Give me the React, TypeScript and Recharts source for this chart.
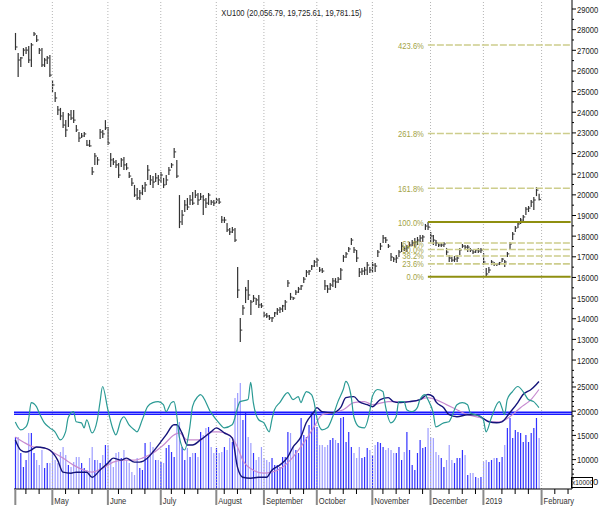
import React from 'react';
import { ComposedChart, Bar, Line, XAxis, YAxis, ReferenceLine } from 'recharts';

const FONT = "'Liberation Sans', Arial, sans-serif";
const NARROW = 0.8;

const highs = [
  27840,26870,26680,27110,27160,27210,27350,27890,27740,27110,
  27110,26630,26720,26770,25560,24980,24300,24210,24010,23620,
  23960,24110,24110,23380,23040,23000,23040,22660,22660,21350,
  22030,21830,23190,23140,23620,23290,22030,21780,21690,21540,
  21780,21830,21540,21110,20820,20480,20330,20230,20480,20620,
  21450,20960,20910,21060,20960,21110,20820,20960,21350,21540,
  22270,21690,19990,19270,19750,19850,19990,20140,20230,20090,
  20090,19990,19850,20090,19750,19750,19850,19850,18980,18930,
  18640,18390,18440,18390,16510,14040,14670,15540,15880,14910,
  15150,15000,15150,14760,14330,14280,14180,14080,14330,14520,
  14570,14670,14910,15880,15250,15050,15390,15540,15630,16020,
  16360,16360,16600,16840,16940,16510,16460,15880,15630,15730,
  15970,15970,16020,16460,17090,17230,17470,17910,17470,17330,
  16460,16460,16510,16750,16510,16750,16700,17330,17670,18060,
  17960,17620,17180,16990,17090,17330,17720,17470,17570,17720,
  17810,17910,17960,18060,18060,18590,18680,18200,18060,17810,
  17670,17670,17720,17430,17090,16990,17040,17090,17430,17620,
  17570,17570,17430,17330,17380,17430,17430,17180,16460,16510,
  16840,16750,16700,16750,16940,16840,17230,17720,18200,18490,
  18690,18880,19020,19410,19460,19750,19900,20380,20056.79,
];

const lows = [
  27010,25710,26190,26720,26820,26390,26190,27690,27400,26820,
  26190,26190,26340,25710,24980,24500,23870,23620,23240,22800,
  23290,23620,23480,23040,22560,22750,22800,22370,22320,20960,
  21450,21450,22700,22750,23140,22410,21350,21450,21300,20820,
  21350,21200,21200,20820,20430,19900,19750,19750,19990,20140,
  20720,20480,20330,20620,20480,20570,20330,20480,20960,21300,
  21780,20820,18390,18540,19170,19270,19510,19510,19850,19510,
  19750,19020,19360,19510,19510,19460,19600,19560,18640,18640,
  18200,18060,18150,17720,15000,12870,14180,14760,14910,14180,
  14810,14670,14520,14520,14080,14040,13940,13840,14080,14180,
  14280,14330,14420,15540,14910,14910,15150,15250,15390,15730,
  16020,16120,16360,16510,16510,16260,16220,15390,15250,15390,
  15540,15490,15730,15880,16750,16940,17230,17570,17180,16750,
  16020,16120,16120,16120,16220,16220,16260,16990,17330,17670,
  17670,17430,16800,16750,16700,16990,17230,17280,17230,17470,
  17520,17470,17570,17720,17720,18300,18300,17720,17570,17520,
  17470,17470,17470,17090,16750,16750,16750,16750,17090,17430,
  17330,17230,17230,17140,17180,17180,17180,16600,16030,16220,
  16600,16550,16550,16600,16750,16510,16990,17330,17810,18200,
  18390,18590,18730,19020,19170,19410,19270,19940,19725.61,
];

const closes = [
  27160,26530,26630,27010,27010,26530,27260,27790,27500,27010,
  26290,26530,26630,25800,25320,24690,24110,23820,23380,23140,
  23870,23720,23620,23140,22750,22850,22950,22410,22370,21110,
  21880,21690,23040,22950,23240,22510,21690,21590,21450,20960,
  21690,21450,21300,20910,20570,19990,19850,20090,20330,20480,
  21200,20720,20620,20820,20720,20960,20480,20720,21200,21450,
  22080,20910,18690,19020,19510,19410,19750,19600,19990,19750,
  19900,19750,19600,19990,19650,19600,19750,19650,18780,18780,
  18300,18200,18300,17810,15390,13450,14520,15390,15150,14810,
  15000,14910,14670,14620,14180,14130,14040,14040,14280,14420,
  14470,14620,14810,15730,15050,15000,15290,15440,15590,15920,
  16260,16310,16550,16750,16840,16360,16310,15590,15440,15630,
  15830,15780,15920,16360,16990,17140,17380,17810,17330,16940,
  16260,16310,16360,16600,16360,16600,16550,17230,17520,17910,
  17810,17520,16990,16890,16940,17230,17520,17380,17430,17570,
  17670,17720,17810,17910,17960,18490,18440,18010,17810,17670,
  17570,17570,17620,17230,16940,16840,16890,16940,17330,17520,
  17470,17470,17330,17230,17330,17280,17330,16750,16170,16360,
  16750,16650,16650,16700,16890,16750,17140,17620,18100,18390,
  18590,18780,18930,19310,19360,19650,19750,20230,19781.15,
];

// volume, x10000
const volumes = [
  52,52,36,22,29,56,56,36,29,24,39,21,26,26,
  37,29,26,37,42,34,24,22,27,32,32,26,21,19,31,
  42,29,29,26,34,44,44,29,22,36,37,31,39,29,26,17,14,
  31,21,19,46,32,47,42,29,29,27,26,41,44,37,32,
  64,67,
  42,29,41,32,36,36,32,
  57,54,61,62,42,36,41,36,37,42,39,51,47,91,96,106,
  69,76,52,46,36,29,32,42,31,29,27,31,24,24,
  22,32,32,57,56,42,39,36,71,54,52,64,76,74,
  62,44,44,42,44,49,51,49,46,71,72,47,57,42,
  36,31,42,31,32,41,39,34,44,47,46,42,39,41,
  39,36,36,42,
  29,37,57,39,24,19,36,49,41,42,
  61,52,51,37,34,31,22,29,44,29,26,31,31,39,
  34,14,16,16,12,11,12,27,29,27,29,31,31,27,
  32,44,61,71,51,59,57,56,47,54,47,56,61,71,51,
];

const tealPts: [number, number][] = [
  [0,17750],[2,16150],[4,16770],[5,18230],[6,21770],[8,20940],[9,19690],[11,17600],[13,16560],[15,15730],
  [17,14060],[19,15730],[20,18650],[22,19900],[23,17810],[25,17600],[26,16560],[27,18230],[29,15520],[31,18230],
  [32,21770],[33,25100],[35,20310],[37,16150],[38,15100],[40,18230],[41,18850],[43,17190],[45,16150],[46,15730],
  [48,18230],[50,20940],[52,21770],[54,21980],[56,21350],[57,19900],[59,21770],[60,21980],[61,19270],[62,14690],
  [64,11980],[66,16770],[67,20940],[69,23020],[70,23440],[74,19690],[77,17600],[79,16560],[82,17190],[85,21980],
  [88,22400],[89,25940],[90,21770],[92,18230],[94,17600],[96,15730],[97,18230],[98,20310],[100,21770],[103,23850],
  [105,22400],[107,23020],[108,21770],[109,23020],[110,24060],[112,23440],[113,21770],[114,18650],[116,16150],[118,16560],
  [120,18850],[122,21980],[124,24480],[125,26150],[127,23020],[128,18850],[130,16770],[132,16560],[134,19900],[135,23020],
  [137,24480],[139,24060],[140,20940],[142,17600],[144,18850],[145,21980],[147,21980],[148,20310],[150,19900],[152,20730],
  [153,22400],[155,23440],[156,22400],[158,19690],[159,16770],[162,17600],[164,17810],[165,18850],[167,21350],[169,21770],
  [171,21350],[172,19690],[174,19270],[176,18850],[177,18230],[178,15730],[180,18650],[183,21980],[184,20730],[185,19270],
  [186,22400],[188,24060],[190,25100],[192,24060],[194,22400],[196,21980],[198,20730],
];

const navyPts: [number, number][] = [
  [0,14060],[2,11980],[4,11560],[6,11980],[8,12600],[11,12400],[13,11980],[16,9900],[18,7400],[21,7190],
  [23,7400],[27,7400],[29,6350],[32,7810],[35,9270],[37,10310],[40,9900],[42,10310],[45,9480],[47,9480],
  [50,10310],[52,11560],[55,13650],[57,15100],[60,17190],[61,17190],[63,15520],[65,13020],[67,13020],[70,14060],
  [74,15730],[76,16560],[79,15520],[82,14480],[84,8440],[86,6350],[89,6150],[92,6350],[95,6350],[97,7810],
  [100,8860],[103,10520],[105,12600],[108,14690],[110,17600],[113,19900],[114,20730],[116,19900],[120,19690],[123,20730],
  [125,22810],[128,23020],[130,21980],[133,21350],[135,20940],[138,22400],[141,22810],[143,21980],[145,21770],[149,21980],
  [153,22400],[156,23440],[158,23020],[159,21980],[162,20730],[164,19270],[167,18850],[171,19270],[174,19270],[176,18850],
  [179,17810],[182,17600],[184,17810],[187,19690],[190,21770],[192,23440],[195,24480],[197,25520],[198,26150],
];

const pinkPts: [number, number][] = [
  [0,14690],[3,13650],[7,12600],[11,12400],[14,11560],[18,10310],[22,8860],[26,7810],[29,7400],[33,8230],
  [37,9480],[41,9900],[45,9900],[48,10310],[52,11350],[56,13020],[60,15100],[62,15520],[65,14060],[70,14060],
  [74,15730],[77,15730],[81,15100],[84,12600],[86,9900],[90,7810],[94,7190],[97,7400],[101,8440],[105,10520],
  [109,13440],[113,16770],[116,19270],[120,19690],[124,20310],[128,21770],[132,21980],[135,21350],[141,21980],[145,21980],
  [150,21980],[156,22810],[159,22400],[163,21350],[167,20310],[171,19270],[176,18650],[180,17810],[183,17810],[187,18850],
  [191,20730],[195,22400],[198,24480],
];

const monthStarts = [0, 14, 35, 55, 76, 94, 114, 135, 157, 177, 199];
const monthLabels = ['', 'May', 'June', 'July', 'August', 'September', 'October', 'November', 'December', '2019', 'February'];

const priceMajorTicks = [12000,13000,14000,15000,16000,17000,18000,19000,20000,21000,22000,23000,24000,25000,26000,27000,28000,29000];
const indMajorTicks = [10000, 15000, 20000, 25000];
const signalLevels = [19770, 19360];

const fibLow = 16030;
const fibHigh = 18680;
const fibStartIdx = 156;
const fibRatios = [0, 0.236, 0.382, 0.5, 0.618, 1, 1.618, 2.618, 4.236];
const fibLabels = ['0.0%', '23.6%', '38.2%', '50.0%', '61.8%', '100.0%', '161.8%', '261.8%', '423.6%'];

const titleText = 'XU100 (20,056.79, 19,725.61, 19,781.15)';

const TOTAL = 211;
const N = highs.length;

const table: any[] = [];
for (let i = 0; i < TOTAL; i++) {
  const row: any = { i };
  if (i < N) {
    row.range = [lows[i], highs[i]];
    row.close = closes[i];
    row.vol = volumes[i];
    row.up = i === 0 ? true : closes[i] >= closes[i - 1];
  }
  table.push(row);
}
tealPts.forEach(([i, v]) => { table[i].teal = v; });
navyPts.forEach(([i, v]) => { table[i].navy = v; });
pinkPts.forEach(([i, v]) => { table[i].pink = v; });

const priceTicks: number[] = [];
priceMajorTicks.forEach((t) => { priceTicks.push(t - 500); priceTicks.push(t); });
const indTicks: number[] = [];
for (let t = 6000; t <= 27000; t += 1000) indTicks.push(t);

const weekTicks: number[] = [];
for (let t = 4; t < TOTAL; t += 5) {
  if (monthStarts.every((m) => Math.abs(m - t) > 2)) weekTicks.push(t);
}
const xTicks = [...monthStarts, ...weekTicks].sort((a, b) => a - b);

const NarrowText = ({ x, y, anchor, size, fill, children }: any) => (
  <g transform={`translate(${x},${y}) scale(${NARROW},1)`}>
    <text x={0} y={0} textAnchor={anchor || 'start'} fontSize={size || 9.5} fontFamily={FONT} fill={fill || '#222'}>
      {children}
    </text>
  </g>
);

const HLCBar = (props: any) => {
  const { x, y, width, height, payload } = props;
  if (!payload || !payload.range) return null;
  const cx = x + width / 2;
  const [lo, hi] = payload.range;
  const top = Math.min(y, y + height);
  const h = Math.abs(height);
  const yc = top + ((hi - payload.close) / (hi - lo)) * h;
  return (
    <g>
      <line x1={cx} x2={cx} y1={top} y2={top + h} stroke="#333" strokeWidth={1.2} />
      <line x1={cx} x2={cx + 2} y1={yc} y2={yc} stroke="#333" strokeWidth={1} />
    </g>
  );
};

const VolBar = (props: any) => {
  const { x, y, width, height, payload } = props;
  if (!payload || payload.vol == null) return null;
  const cx = x + width / 2;
  return <rect x={cx - 0.6} y={y} width={1.2} height={Math.max(0, height)} fill={payload.up ? '#3232ff' : '#9d9dff'} />;
};

const PriceTick = (props: any) => {
  const { x, y, payload } = props;
  const v = payload.value;
  const major = v % 1000 === 0;
  return (
    <g>
      <line x1={x} x2={x + (major ? 4 : 2)} y1={y} y2={y} stroke="#000" />
      {major && <NarrowText x={x + 5} y={y + 3.5}>{v}</NarrowText>}
    </g>
  );
};

const IndTick = (props: any) => {
  const { x, y, payload } = props;
  const v = payload.value;
  const major = indMajorTicks.includes(v);
  return (
    <g>
      <line x1={x} x2={x + (major ? 4 : 2)} y1={y} y2={y} stroke="#000" />
      {major && <NarrowText x={x + 5} y={y + 3.5}>{v}</NarrowText>}
    </g>
  );
};

const XTick = (props: any) => {
  const { x, y, payload } = props;
  const v = payload.value;
  const mi = monthStarts.indexOf(v);
  if (mi >= 0) {
    return (
      <g>
        <line x1={x} x2={x} y1={y} y2={y + 16} stroke="#8a8a8a" strokeWidth={2} />
        {monthLabels[mi] && <NarrowText x={x + 2} y={y + 15} fill="#333">{monthLabels[mi]}</NarrowText>}
      </g>
    );
  }
  return <line x1={x} x2={x} y1={y} y2={y + 5} stroke="#000" />;
};

const FibLabel = (props: any) => {
  const { viewBox, text } = props;
  if (!viewBox) return null;
  return (
    <NarrowText x={viewBox.x - 4} y={viewBox.y + 3.5} anchor="end" fill="#a3a345">{text}</NarrowText>
  );
};

export default function App() {
  const fibRange = fibHigh - fibLow;
  return (
    <div style={{ position: 'absolute', left: 0, top: 0, width: 600, height: 509, background: '#fff', fontFamily: FONT }}>
      <div style={{ position: 'absolute', left: 0, top: 0 }}>
        <ComposedChart width={600} height={375} data={table} margin={{ top: 0, right: 0, bottom: 0, left: 14 }} barCategoryGap={0}>
          <XAxis dataKey="i" hide />
          <YAxis
            orientation="right"
            width={28}
            domain={[11276, 29436]}
            allowDataOverflow
            ticks={priceTicks}
            interval={0}
            tick={<PriceTick />}
            tickLine={false}
            tickSize={0}
            tickMargin={0}
            axisLine={{ stroke: '#000' }}
          />
          {monthStarts.slice(1).map((m) => (
            <ReferenceLine key={'g' + m} x={m} stroke="#b5b5b5" strokeDasharray="1 2" />
          ))}
          {fibRatios.map((r, k) => {
            const lvl = fibLow + r * fibRange;
            const solid = r === 0 || r === 1;
            return (
              <ReferenceLine
                key={'f' + k}
                segment={[{ x: fibStartIdx, y: lvl }, { x: TOTAL - 1, y: lvl }]}
                stroke={solid ? '#8f8f10' : '#cdcd8c'}
                strokeWidth={solid ? 2 : 1.6}
                strokeDasharray={solid ? undefined : '7 2'}
                label={<FibLabel text={fibLabels[k]} />}
              />
            );
          })}
          <Bar dataKey="range" shape={<HLCBar />} isAnimationActive={false} />
        </ComposedChart>
      </div>
      <div style={{ position: 'absolute', left: 0, top: 375 }}>
        <ComposedChart width={600} height={134} data={table} margin={{ top: 0, right: 0, bottom: 0, left: 14 }} barCategoryGap={0}>
          <XAxis
            dataKey="i"
            height={20}
            ticks={xTicks}
            interval={0}
            tick={<XTick />}
            tickLine={false}
            tickSize={0}
            tickMargin={0}
            axisLine={{ stroke: '#000' }}
          />
          <YAxis
            yAxisId="ind"
            orientation="right"
            width={28}
            domain={[3926, 27479]}
            allowDataOverflow
            ticks={indTicks}
            interval={0}
            tick={<IndTick />}
            tickLine={false}
            tickSize={0}
            tickMargin={0}
            axisLine={{ stroke: '#000' }}
          />
          <YAxis yAxisId="vol" hide domain={[0, 114]} allowDataOverflow />
          {monthStarts.slice(1).map((m) => (
            <ReferenceLine key={'h' + m} yAxisId="ind" x={m} stroke="#b5b5b5" strokeDasharray="1 2" />
          ))}
          <Bar yAxisId="vol" dataKey="vol" shape={<VolBar />} isAnimationActive={false} />
          {signalLevels.map((s) => (
            <ReferenceLine key={'s' + s} yAxisId="ind" y={s} stroke="#1818ff" strokeWidth={1.6} />
          ))}
          <Line yAxisId="ind" dataKey="pink" type="monotone" stroke="#c78ad0" strokeWidth={1.2} dot={false} connectNulls isAnimationActive={false} />
          <Line yAxisId="ind" dataKey="navy" type="monotone" stroke="#14147a" strokeWidth={1.4} dot={false} connectNulls isAnimationActive={false} />
          <Line yAxisId="ind" dataKey="teal" type="monotone" stroke="#2a9a94" strokeWidth={1.2} dot={false} connectNulls isAnimationActive={false} />
        </ComposedChart>
      </div>
      <div
        style={{
          position: 'absolute', left: 150, top: 8, width: 283, textAlign: 'center',
          fontSize: 9.5, lineHeight: '10px', color: '#222', whiteSpace: 'nowrap',
          transform: `scaleX(${NARROW})`, transformOrigin: '141.5px 0',
        }}
      >
        {titleText}
      </div>
      <div
        style={{
          position: 'absolute', left: 571, top: 477, width: 20, height: 9, border: '1px solid #000',
          fontSize: 6.5, lineHeight: '9px', color: '#222', overflow: 'hidden', whiteSpace: 'nowrap', textAlign: 'center',
        }}
      >
        x10000
      </div>
      <div style={{ position: 'absolute', left: 593, top: 477, fontSize: 9.5, lineHeight: '10px', color: '#222' }}>0</div>
    </div>
  );
}
